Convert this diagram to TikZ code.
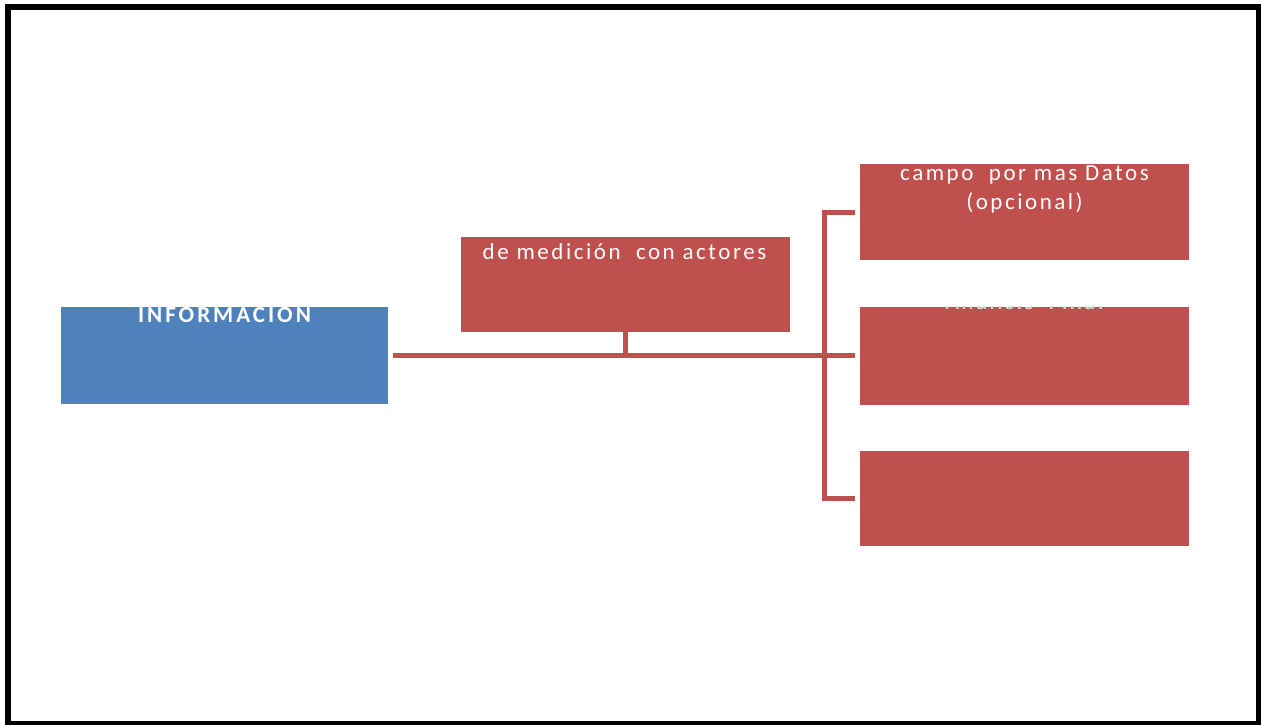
\documentclass[tikz,border=0pt]{standalone}
\usepackage{fontspec}
\setmainfont{Carlito}[LetterSpace=11]
\definecolor{boxblue}{HTML}{4F81BD}
\definecolor{boxred}{HTML}{C0504D}
\begin{document}
\begin{tikzpicture}[x=1pt,y=-1pt,
  redbox/.style={rectangle,fill=boxred,draw=none,inner sep=0pt,minimum width=329pt,minimum height=96pt},
  bluebox/.style={rectangle,fill=boxblue,draw=none,inner sep=0pt,minimum width=327pt,minimum height=97pt},
  conn/.style={draw=boxred,line width=5pt},
  boxtext/.style={anchor=base,text=white,inner sep=0pt,font=\fontsize{23}{26}\selectfont}
]
\useasboundingbox (0,0) rectangle (1261,724);
\draw[line width=6pt] (8,7) rectangle (1259,724);

% boxes
\node[bluebox] (info) at (224.5,355.5) {};
\node[redbox,minimum height=95pt] (mid) at (625,284) {};
\node[redbox] (b1) at (1024.5,212) {};
\node[redbox,minimum height=98pt] (b2) at (1024.5,355.5) {};
\node[redbox,minimum height=95pt] (b3) at (1024.5,498.5) {};

% texts
\node[boxtext,font=\fontsize{23}{26}\selectfont\bfseries\addfontfeature{LetterSpace=13}] (tinfo) at (224.5,322) {INFORMACIÓN};
\node[boxtext] (tmid) at (624.5,259) {de medición\ \ con actores};
\node[boxtext] (tb1a) at (1024.5,180) {campo\ \ por mas Datos};
\node[boxtext] (tb1b) at (1024.5,209) {(opcional)};
\begin{scope}
  \clip (b2.north west) rectangle (b2.south east);
  \node[boxtext] (tb2) at (1024.5,309) {Analisis\ \ Final};
\end{scope}
\begin{scope}
  \clip (b2.north west) rectangle ([yshift=-20pt]b2.north east);
  \node[boxtext,text=black!18] (tb2g) at (1024.5,309) {Analisis\ \ Final};
\end{scope}

% connectors
\coordinate (bus) at (824.5,0);
\draw[conn] ([xshift=5pt]info.east) -- ([xshift=-5pt]b2.west |- info.east);
\draw[conn] ([yshift=5pt]mid.south) -- (mid.south |- info.east);
\draw[conn] ([xshift=-5pt]b1.west) -| (bus |- b3.west) -- ([xshift=-5pt]b3.west);
\end{tikzpicture}
\end{document}
